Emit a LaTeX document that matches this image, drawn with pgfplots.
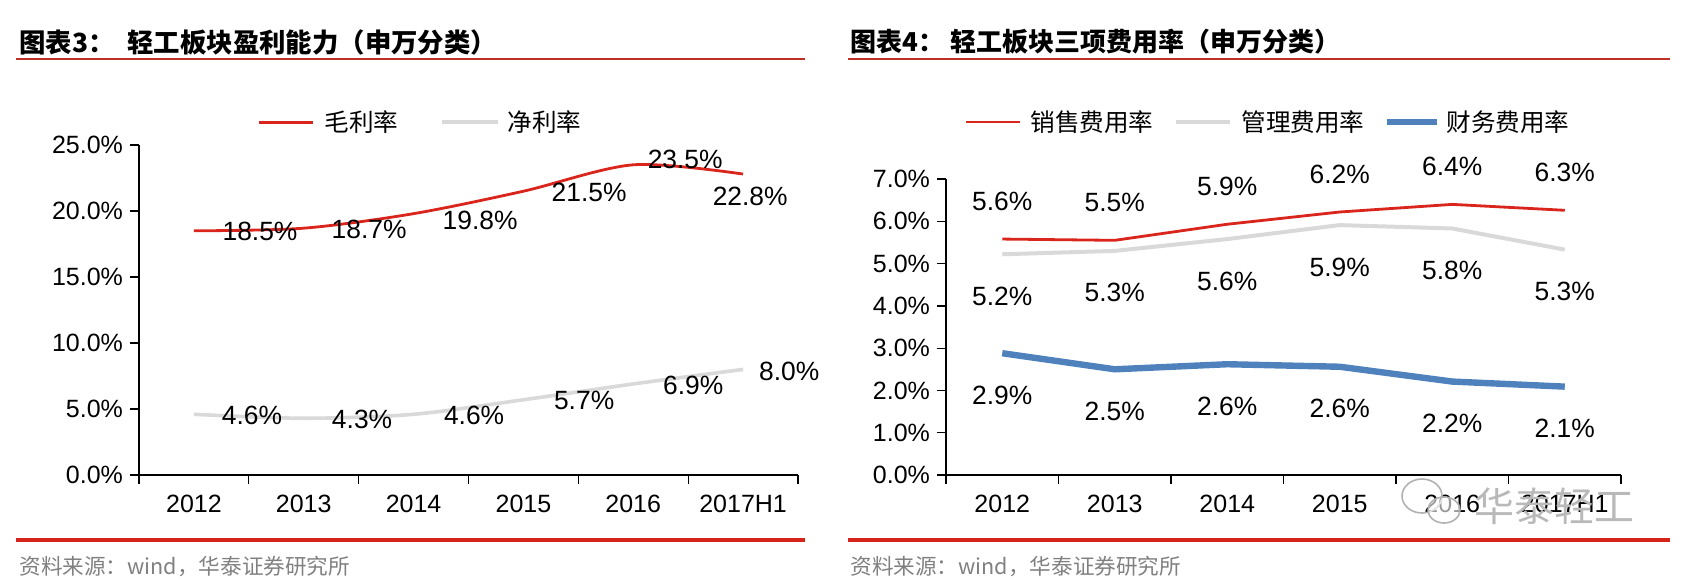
\documentclass[border=0pt]{standalone}
\usepackage{fontspec}
\setmainfont{Liberation Sans}
\newfontfamily\cjk{Noto Sans CJK SC}
\usepackage{pgfplots}
\pgfplotsset{compat=1.18}
\definecolor{lred}{RGB}{218,37,29}
\definecolor{lgray}{RGB}{217,217,217}
\definecolor{lblue}{RGB}{79,129,189}
\definecolor{titlered}{RGB}{190,48,40}
\definecolor{barred}{RGB}{214,36,26}
\newcommand\fs[1]{\fontsize{#1}{#1}\selectfont}
\pgfplotsset{
  common/.style={
    scale only axis, anchor=south west, clip=false,
    xmin=-0.5, xmax=5.5,
    axis x line*=bottom, axis y line*=left,
    axis line style={line width=0.65pt, black},
    tick style={line width=0.65pt, black},
    tick align=outside, major tick length=4.5pt,
    xtick={-0.5,0.5,1.5,2.5,3.5,4.5,5.5},
    x tick label as interval,
    xticklabels={2012,2013,2014,2015,2016,2017H1},
    /pgf/number format/assume math mode=true,
    tick label style={font=\fs{12.5pt}},
    xticklabel style={yshift=-2pt},
    yticklabel={\pgfmathprintnumber[fixed,fixed zerofill,precision=1]{\tick}\%},
  }
}
\begin{document}
\begin{tikzpicture}
\path[use as bounding box] (0,0) rectangle (846pt,-292.5pt);
% ---------- left panel ----------
\node[anchor=west,inner sep=0] at (9.5pt,-21pt) {\cjk\bfseries\fs{13.2pt}图表3：};
\node[anchor=west,inner sep=0] at (63.5pt,-21pt) {\cjk\bfseries\fs{13.2pt}轻工板块盈利能力（申万分类）};
\draw[titlered,line width=1pt] (8pt,-29.7pt) -- (402.5pt,-29.7pt);
\draw[barred,line width=1.75pt] (8pt,-270pt) -- (402.5pt,-270pt);
\node[anchor=west,inner sep=0,text=gray] at (9.5pt,-283pt) {\cjk\fs{10.8pt}资料来源：wind，华泰证券研究所};
% legend
\draw[lred,line width=1.5pt] (129.5pt,-61pt) -- (156.5pt,-61pt);
\node[anchor=west,inner sep=0] at (162pt,-61pt) {\cjk\fs{12.3pt}毛利率};
\draw[lgray,line width=2pt] (221pt,-61pt) -- (249pt,-61pt);
\node[anchor=west,inner sep=0] at (253.5pt,-61pt) {\cjk\fs{12.3pt}净利率};
\begin{axis}[common, at={(69.5pt,-237.5pt)}, width=329.5pt, height=165pt,
  ymin=0, ymax=25, ytick={0,5,10,15,20,25}]
\addplot[lgray, line width=1.8pt, smooth, tension=0.5, no markers] coordinates {(0,4.6) (1,4.3) (2,4.6) (3,5.7) (4,6.9) (5,8.0)};
\addplot[lred, line width=1.4pt, smooth, tension=0.5, no markers] coordinates {(0,18.5) (1,18.7) (2,19.8) (3,21.5) (4,23.5) (5,22.8)};
\begin{scope}[every node/.style={font=\fs{13.2pt}, inner sep=0}]
\node at (axis cs:0.602,18.43) {18.5\%};
\node at (axis cs:1.595,18.64) {18.7\%};
\node at (axis cs:2.606,19.32) {19.8\%};
\node at (axis cs:3.598,21.44) {21.5\%};
\node at (axis cs:4.473,23.94) {23.5\%};
\node at (axis cs:5.065,21.14) {22.8\%};
\node at (axis cs:0.529,4.545) {4.6\%};
\node at (axis cs:1.531,4.24) {4.3\%};
\node at (axis cs:2.551,4.545) {4.6\%};
\node at (axis cs:3.553,5.61) {5.7\%};
\node at (axis cs:4.546,6.82) {6.9\%};
\node at (axis cs:5.42,7.88) {8.0\%};
\end{scope}
\end{axis}
% ---------- right panel ----------
\node[anchor=west,inner sep=0] at (425pt,-21pt) {\cjk\bfseries\fs{13pt}图表4：};
\node[anchor=west,inner sep=0] at (475pt,-21pt) {\cjk\bfseries\fs{13pt}轻工板块三项费用率（申万分类）};
\draw[titlered,line width=1pt] (424pt,-29.7pt) -- (835pt,-29.7pt);
\draw[barred,line width=1.75pt] (424pt,-270pt) -- (835pt,-270pt);
\node[anchor=west,inner sep=0,text=gray] at (425pt,-283pt) {\cjk\fs{10.8pt}资料来源：wind，华泰证券研究所};
% legend
\draw[lred,line width=1.4pt] (483pt,-61pt) -- (510pt,-61pt);
\node[anchor=west,inner sep=0] at (515pt,-61pt) {\cjk\fs{12.3pt}销售费用率};
\draw[lgray,line width=2pt] (588pt,-61pt) -- (615pt,-61pt);
\node[anchor=west,inner sep=0] at (620.5pt,-61pt) {\cjk\fs{12.3pt}管理费用率};
\draw[lblue,line width=3.2pt] (693.5pt,-61pt) -- (718.5pt,-61pt);
\node[anchor=west,inner sep=0] at (723pt,-61pt) {\cjk\fs{12.3pt}财务费用率};
\begin{axis}[common, at={(473pt,-237.5pt)}, width=337.5pt, height=148pt,
  ymin=0, ymax=7, ytick={0,1,...,7},
  nodes near coords, point meta=explicit symbolic,
  every node near coord/.append style={font=\fs{13.2pt}, black, anchor=center, inner sep=0}]
\addplot[lred, line width=1.4pt, no markers, every node near coord/.append style={yshift=19pt}] coordinates {(0,5.58)[5.6\%] (1,5.55)[5.5\%] (2,5.93)[5.9\%] (3,6.22)[6.2\%] (4,6.40)[6.4\%] (5,6.26)[6.3\%]};
\addplot[lgray, line width=2pt, no markers, every node near coord/.append style={yshift=-21pt}] coordinates {(0,5.22)[5.2\%] (1,5.30)[5.3\%] (2,5.58)[5.6\%] (3,5.91)[5.9\%] (4,5.83)[5.8\%] (5,5.33)[5.3\%]};
\addplot[lblue, line width=3.2pt, no markers, every node near coord/.append style={yshift=-21pt}] coordinates {(0,2.88)[2.9\%] (1,2.50)[2.5\%] (2,2.62)[2.6\%] (3,2.56)[2.6\%] (4,2.21)[2.2\%] (5,2.09)[2.1\%]};
\end{axis}
% watermark
\draw[gray!60,line width=0.8pt] (711pt,-248pt) ellipse (10pt and 8.5pt);
\draw[gray!60,line width=0.8pt,fill=white,fill opacity=0.6] (722pt,-255pt) ellipse (8pt and 6.5pt);
\node[text=gray!55,inner sep=0] at (777pt,-253pt) {\cjk\fs{20pt}华泰轻工};
\end{tikzpicture}
\end{document}
